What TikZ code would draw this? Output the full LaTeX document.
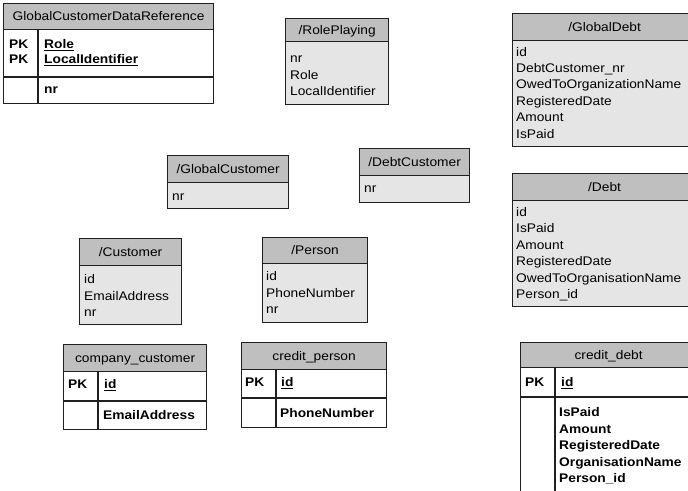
\documentclass[tikz,border=0pt]{standalone}
\usepackage{fontspec}
\setmainfont[FakeStretch=1.1]{Liberation Sans}
% underlined key column name with a heavier rule
\newcommand\keyul[1]{\leavevmode\vtop{\hbox{#1}\kern1.1pt\hrule height 1.1pt}}
\begin{document}
\begin{tikzpicture}[x=1pt,y=-1pt,
  every node/.style={font=\fontsize{12.5}{16.4}\selectfont, inner sep=0pt},
  frame/.style={draw=gray!25!black, line width=1.2pt},
  hdr/.style={frame, fill=gray!50, anchor=north west, text height=9pt, text depth=1pt},
  vbody/.style={frame, fill=gray!20, anchor=north west},
  tbody/.style={frame, fill=white, anchor=north west},
  rule/.style={draw=gray!25!black, line width=1.2pt},
  lines/.style={anchor=base west, align=left},
  keys/.style={anchor=base west, align=left, font=\fontsize{12.5}{16.4}\selectfont\bfseries},
]
\useasboundingbox (0,0) rectangle (688,490);
\clip (0,0) rectangle (688,490);
% text blocks are placed by the baseline of their last line

% ---- GlobalCustomerDataReference
\node[hdr, minimum width=210pt, minimum height=26pt] (gcdr-h) at (3,3) {GlobalCustomerDataReference};
\node[tbody, minimum width=210pt, minimum height=74pt] (gcdr-b) at (3,29) {};
\draw[rule] (3,77) -- (213,77);
\draw[rule] (38,29) -- (38,103);
\node[keys, font=\fontsize{12.5}{15}\selectfont\bfseries] (gcdr-pk) at (9,63.5) {PK\\PK};
\node[keys, font=\fontsize{12.5}{15}\selectfont\bfseries] (gcdr-k) at (44,63.5) {\keyul{Role}\\\keyul{LocalIdentifier}};
\node[keys] (gcdr-f) at (44,93.5) {nr};

% ---- /RolePlaying
\node[hdr, minimum width=103pt, minimum height=23pt] (rp-h) at (285,18) {/RolePlaying};
\node[vbody, minimum width=103pt, minimum height=63pt] (rp-b) at (285,41) {};
\node[lines] (rp-f) at (290,95.5) {nr\\Role\\LocalIdentifier};

% ---- /GlobalDebt
\node[hdr, minimum width=184pt, minimum height=27pt] (gd-h) at (512,13) {/GlobalDebt};
\node[vbody, minimum width=184pt, minimum height=106pt] (gd-b) at (512,40) {};
\node[lines] (gd-f) at (516,138) {id\\DebtCustomer\_nr\\OwedToOrganizationName\\RegisteredDate\\Amount\\IsPaid};

% ---- /GlobalCustomer
\node[hdr, minimum width=121pt, minimum height=27pt] (gc-h) at (167,155) {/GlobalCustomer};
\node[vbody, minimum width=121pt, minimum height=26pt] (gc-b) at (167,182) {};
\node[lines] (gc-f) at (172,200.5) {nr};

% ---- /DebtCustomer
\node[hdr, minimum width=110pt, minimum height=27pt] (dc-h) at (359,148) {/DebtCustomer};
\node[vbody, minimum width=110pt, minimum height=27pt] (dc-b) at (359,175) {};
\node[lines] (dc-f) at (364,192.5) {nr};

% ---- /Debt
\node[hdr, minimum width=184pt, minimum height=27pt] (d-h) at (512,173) {/Debt};
\node[vbody, minimum width=184pt, minimum height=106pt] (d-b) at (512,200) {};
\node[lines] (d-f) at (516,298.5) {id\\IsPaid\\Amount\\RegisteredDate\\OwedToOrganisationName\\Person\_id};

% ---- /Customer
\node[hdr, minimum width=102pt, minimum height=27pt] (c-h) at (79,238) {/Customer};
\node[vbody, minimum width=102pt, minimum height=59pt] (c-b) at (79,265) {};
\node[lines] (c-f) at (84,316.5) {id\\EmailAddress\\nr};

% ---- /Person
\node[hdr, minimum width=105pt, minimum height=26pt] (p-h) at (262,237) {/Person};
\node[vbody, minimum width=105pt, minimum height=59pt] (p-b) at (262,263) {};
\node[lines] (p-f) at (266,313.5) {id\\PhoneNumber\\nr};

% ---- company_customer
\node[hdr, minimum width=143pt, minimum height=27pt] (cc-h) at (63,344) {company\_customer};
\node[tbody, minimum width=143pt, minimum height=58pt] (cc-b) at (63,371) {};
\draw[rule] (63,401) -- (206,401);
\draw[rule] (98,371) -- (98,429);
\node[keys] (cc-pk) at (68,388.5) {PK};
\node[keys] (cc-k) at (104,388.5) {\keyul{id}};
\node[keys] (cc-f) at (103,419.5) {EmailAddress};

% ---- credit_person
\node[hdr, minimum width=145pt, minimum height=27pt] (cp-h) at (241,342) {credit\_person};
\node[tbody, minimum width=145pt, minimum height=58pt] (cp-b) at (241,369) {};
\draw[rule] (241,398) -- (386,398);
\draw[rule] (276,369) -- (276,427);
\node[keys] (cp-pk) at (245,386.5) {PK};
\node[keys] (cp-k) at (281,386.5) {\keyul{id}};
\node[keys] (cp-f) at (280,417.5) {PhoneNumber};

% ---- credit_debt
\node[hdr, minimum width=176pt, minimum height=25pt] (cd-h) at (520,342) {credit\_debt};
\node[tbody, minimum width=176pt, minimum height=140pt] (cd-b) at (520,367) {};
\draw[rule] (520,397) -- (696,397);
\draw[rule] (555,367) -- (555,507);
\node[keys] (cd-pk) at (525,386.5) {PK};
\node[keys] (cd-k) at (561,386.5) {\keyul{id}};
\node[keys, font=\fontsize{12.5}{16.5}\selectfont\bfseries] (cd-f) at (559,482.5) {IsPaid\\Amount\\RegisteredDate\\OrganisationName\\Person\_id};
\end{tikzpicture}
\end{document}
